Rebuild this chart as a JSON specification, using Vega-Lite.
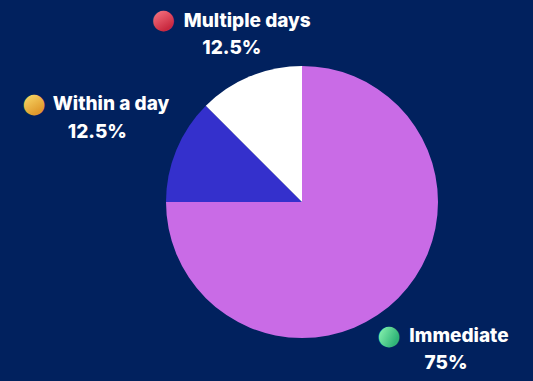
{
  "$schema": "https://vega.github.io/schema/vega-lite/v6.json",
  "width": 462,
  "height": 358,
  "autosize": {"type": "none"},
  "padding": {"left": 71, "top": 23, "right": 0, "bottom": 0},
  "background": "#01215E",
  "config": {"view": {"stroke": null}, "text": {"font": "Inter", "fontWeight": 800, "fontSize": 19, "color": "white", "align": "center", "baseline": "middle"}},
  "data": {"values": [
    {"category": "Immediate", "value": 75, "pct": "75%", "rank": 1},
    {"category": "Within a day", "value": 12.5, "pct": "12.5%", "rank": 2},
    {"category": "Multiple days", "value": 12.5, "pct": "12.5%", "rank": 3}
  ]},
  "encoding": {
    "theta": {"field": "value", "type": "quantitative", "stack": true},
    "order": {"field": "rank", "type": "quantitative"}
  },
  "layer": [
    {
      "mark": {"type": "arc", "outerRadius": 136},
      "encoding": {
        "color": {"field": "category", "type": "nominal", "legend": null,
          "scale": {"domain": ["Immediate", "Within a day", "Multiple days"], "range": ["#C96BE6", "#3430CC", "#FFFFFF"]}}
      }
    },
    {
      "mark": {"type": "text", "radius": 190, "dx": 18, "dy": -5},
      "encoding": {"text": {"condition": {"test": "datum.category === 'Multiple days'", "field": "category"}, "value": ""}}
    },
    {
      "mark": {"type": "text", "radius": 165, "dx": -7, "dy": -2},
      "encoding": {"text": {"condition": {"test": "datum.category === 'Multiple days'", "field": "pct"}, "value": ""}}
    },
    {
      "mark": {"type": "text", "radius": 210, "dx": 3, "dy": -18},
      "encoding": {"text": {"condition": {"test": "datum.category === 'Within a day'", "field": "category"}, "value": ""}}
    },
    {
      "mark": {"type": "text", "radius": 215, "dx": -6, "dy": 12},
      "encoding": {"text": {"condition": {"test": "datum.category === 'Within a day'", "field": "pct"}, "value": ""}}
    },
    {
      "mark": {"type": "text", "radius": 205, "dx": 12, "dy": -11},
      "encoding": {"text": {"condition": {"test": "datum.category === 'Immediate'", "field": "category"}, "value": ""}}
    },
    {
      "mark": {"type": "text", "radius": 215, "dx": -8, "dy": 9},
      "encoding": {"text": {"condition": {"test": "datum.category === 'Immediate'", "field": "pct"}, "value": ""}}
    },
    {
      "mark": {"type": "text", "radius": 190, "dx": -66, "dy": -6, "font": "DejaVu Sans", "fontWeight": "normal", "fontSize": 27,
        "color": {"gradient": "linear", "x1": 0.3, "y1": 0.2, "x2": 0.6, "y2": 0.85, "stops": [{"offset": 0, "color": "#F4707E"}, {"offset": 1, "color": "#C8283E"}]}},
      "encoding": {"text": {"condition": {"test": "datum.category === 'Multiple days'", "value": "●"}, "value": ""}}
    },
    {
      "mark": {"type": "text", "radius": 210, "dx": -74, "dy": -18, "font": "DejaVu Sans", "fontWeight": "normal", "fontSize": 27,
        "color": {"gradient": "linear", "x1": 0.3, "y1": 0.2, "x2": 0.6, "y2": 0.85, "stops": [{"offset": 0, "color": "#F8D768"}, {"offset": 1, "color": "#E09A2C"}]}},
      "encoding": {"text": {"condition": {"test": "datum.category === 'Within a day'", "value": "●"}, "value": ""}}
    },
    {
      "mark": {"type": "text", "radius": 205, "dx": -58, "dy": -11, "font": "DejaVu Sans", "fontWeight": "normal", "fontSize": 27,
        "color": {"gradient": "linear", "x1": 0.2, "y1": 0.3, "x2": 0.8, "y2": 0.7, "stops": [{"offset": 0, "color": "#7EEBA8"}, {"offset": 1, "color": "#2FB478"}]}},
      "encoding": {"text": {"condition": {"test": "datum.category === 'Immediate'", "value": "●"}, "value": ""}}
    }
  ]
}
